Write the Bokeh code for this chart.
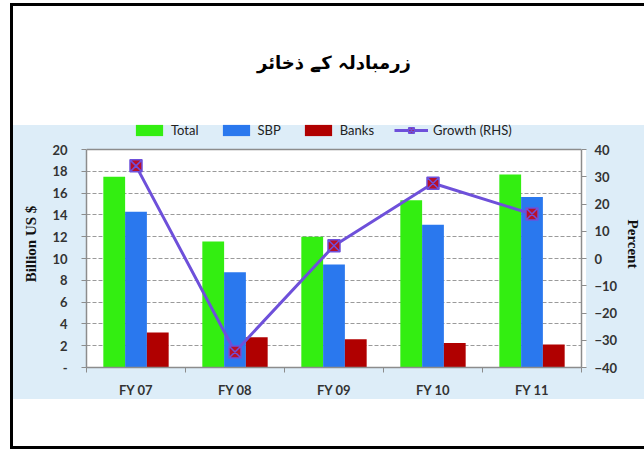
from bokeh.plotting import figure
from bokeh.models import (Range1d, LinearAxis, FixedTicker, Legend, LegendItem,
                          ColumnDataSource, Title, Grid)
from bokeh.embed import file_html
from bokeh.resources import INLINE

categories = ["FY 07", "FY 08", "FY 09", "FY 10", "FY 11"]
total = [17.5, 11.55, 12.0, 15.35, 17.7]
sbp = [14.3, 8.75, 9.45, 13.1, 15.65]
banks = [3.2, 2.78, 2.6, 2.25, 2.1]
growth = [34.0, -34.3, 4.7, 27.6, 16.3]
left_ticks = [0, 2, 4, 6, 8, 10, 12, 14, 16, 18, 20]
right_ticks = [-40, -30, -20, -10, 0, 10, 20, 30, 40]
title_text = "زرمبادلہ کے ذخائر"

GREEN = "#33EE11"
BLUE = "#2A78EE"
RED = "#B00000"
PURPLE = "#6E50DA"
PANEL = "#DDEDF8"
AXIS = "#8C8C8C"

# layout (pixels): plot box 86..586 x 149..367, frame extended up to 120 for the legend
FRAME_TOP, BOX_TOP, BOX_BOTTOM = 120, 149, 367
scale_l = (BOX_BOTTOM - BOX_TOP) / 20.0
scale_r = (BOX_BOTTOM - BOX_TOP) / 80.0
y_top_l = (BOX_BOTTOM - FRAME_TOP) / scale_l
y_top_r = -40 + (BOX_BOTTOM - FRAME_TOP) / scale_r

xs = list(range(1, len(categories) + 1))
src = ColumnDataSource(dict(
    x=xs, xg=[v - 0.22 for v in xs], xr=[v + 0.22 for v in xs],
    total=total, sbp=sbp, banks=banks, growth=growth))

p = figure(width=644, height=450, output_backend="svg", toolbar_location=None,
           title=None,
           x_range=Range1d(0.5, 5.5), y_range=Range1d(0, y_top_l),
           min_border_left=86, min_border_right=58, min_border_top=FRAME_TOP,
           min_border_bottom=450 - BOX_BOTTOM)
p.border_fill_alpha = 0
p.background_fill_alpha = 0
p.outline_line_color = None
p.styles = {
    "background": (
        "linear-gradient(#000,#000) 10px 3px / 634px 3px no-repeat, "
        "linear-gradient(#000,#000) 10px 3px / 3px 446px no-repeat, "
        "linear-gradient(#000,#000) 10px 446px / 634px 3px no-repeat, "
        "linear-gradient(#fff,#fff) 86px 149px / 500px 218px no-repeat, "
        f"linear-gradient({PANEL},{PANEL}) 13px 125px / 631px 274px no-repeat, "
        "#ffffff")
}

p.extra_y_ranges = {"pct": Range1d(-40, y_top_r)}

p.xgrid.visible = False
p.ygrid.ticker = FixedTicker(ticks=left_ticks[1:-1])
p.ygrid.grid_line_color = "#9A9A9A"
p.ygrid.grid_line_dash = "4 2"
p.ygrid.grid_line_width = 1
p.add_layout(Grid(dimension=1, ticker=FixedTicker(ticks=[left_ticks[-1]]),
                  grid_line_color=AXIS, grid_line_width=1.5))

rg = p.vbar(x="xg", top="total", width=0.22, source=src, fill_color=GREEN, line_color=None)
rb = p.vbar(x="x", top="sbp", width=0.22, source=src, fill_color=BLUE, line_color=None)
rr = p.vbar(x="xr", top="banks", width=0.22, source=src, fill_color=RED, line_color=None)
rl = p.line(x="x", y="growth", source=src, y_range_name="pct", line_color=PURPLE, line_width=3)
rm = p.scatter(x="x", y="growth", source=src, y_range_name="pct", marker="square_x",
               size=12, fill_color="#B8102A", line_color=PURPLE, line_width=1.5)

xa = p.xaxis[0]
xa.ticker = FixedTicker(ticks=xs, minor_ticks=[0.5, 1.5, 2.5, 3.5, 4.5, 5.5])
xa.major_label_overrides = {i: c for i, c in zip(xs, categories)}
xa.major_tick_out = 0
xa.major_tick_in = 0
xa.minor_tick_out = 5
xa.minor_tick_in = 0
xa.minor_tick_line_color = AXIS
xa.axis_line_color = AXIS
xa.axis_line_width = 1.5
xa.major_label_standoff = 9
xa.major_label_text_font = "Lato"
xa.major_label_text_font_style = "bold"
xa.major_label_text_font_size = "13px"
xa.major_label_text_color = "#333333"

ya = p.yaxis[0]
ya.ticker = FixedTicker(ticks=left_ticks)
ya.bounds = (left_ticks[0], left_ticks[-1])
ya.major_label_overrides = {0: "-"}
ya.major_tick_out = 5
ya.major_tick_in = 0
ya.minor_tick_out = 0
ya.minor_tick_in = 0
ya.axis_line_color = AXIS
ya.axis_line_width = 1.5
ya.major_tick_line_color = AXIS
ya.major_label_standoff = 14
ya.major_label_text_font = "Lato"
ya.major_label_text_font_style = "bold"
ya.major_label_text_font_size = "13px"
ya.major_label_text_color = "#333333"
ya.axis_label = "Billion US $"
ya.axis_label_text_font = "Liberation Serif"
ya.axis_label_text_font_style = "bold"
ya.axis_label_text_font_size = "15px"
ya.axis_label_text_color = "#111111"
ya.axis_label_standoff = 10

ra = LinearAxis(y_range_name="pct", ticker=FixedTicker(ticks=right_ticks))
ra.bounds = (right_ticks[0], right_ticks[-1])
ra.major_tick_out = 5
ra.major_tick_in = 0
ra.minor_tick_out = 0
ra.minor_tick_in = 0
ra.axis_line_color = AXIS
ra.axis_line_width = 1.5
ra.major_tick_line_color = AXIS
ra.major_label_standoff = 8
ra.major_label_text_font = "Lato"
ra.major_label_text_font_style = "bold"
ra.major_label_text_font_size = "13px"
ra.major_label_text_color = "#333333"
ra.axis_label = "Percent"
ra.axis_label_text_font = "Liberation Serif"
ra.axis_label_text_font_style = "bold"
ra.axis_label_text_font_size = "15px"
ra.axis_label_text_color = "#111111"
ra.axis_label_standoff = 5
p.add_layout(ra, "right")

legend = Legend(items=[
    LegendItem(label="Total", renderers=[rg]),
    LegendItem(label="SBP", renderers=[rb]),
    LegendItem(label="Banks", renderers=[rr]),
    LegendItem(label="Growth (RHS)", renderers=[rl, rm]),
], orientation="horizontal", location=(46, BOX_BOTTOM - FRAME_TOP - 18))
legend.background_fill_alpha = 0
legend.border_line_color = None
legend.padding = 0
legend.margin = 0
legend.spacing = 20
legend.glyph_width = 34
legend.glyph_height = 14
legend.label_standoff = 5
legend.label_height = 14
legend.label_text_font = "Lato"
legend.label_text_font_size = "13px"
legend.label_text_color = "#222222"
p.add_layout(legend)

t = Title(text=title_text, align="center", text_font="DejaVu Sans",
          text_font_size="18px", text_font_style="bold", text_color="black",
          standoff=96)
p.add_layout(t, "above")

open("out.html", "w").write(file_html(p, INLINE))
